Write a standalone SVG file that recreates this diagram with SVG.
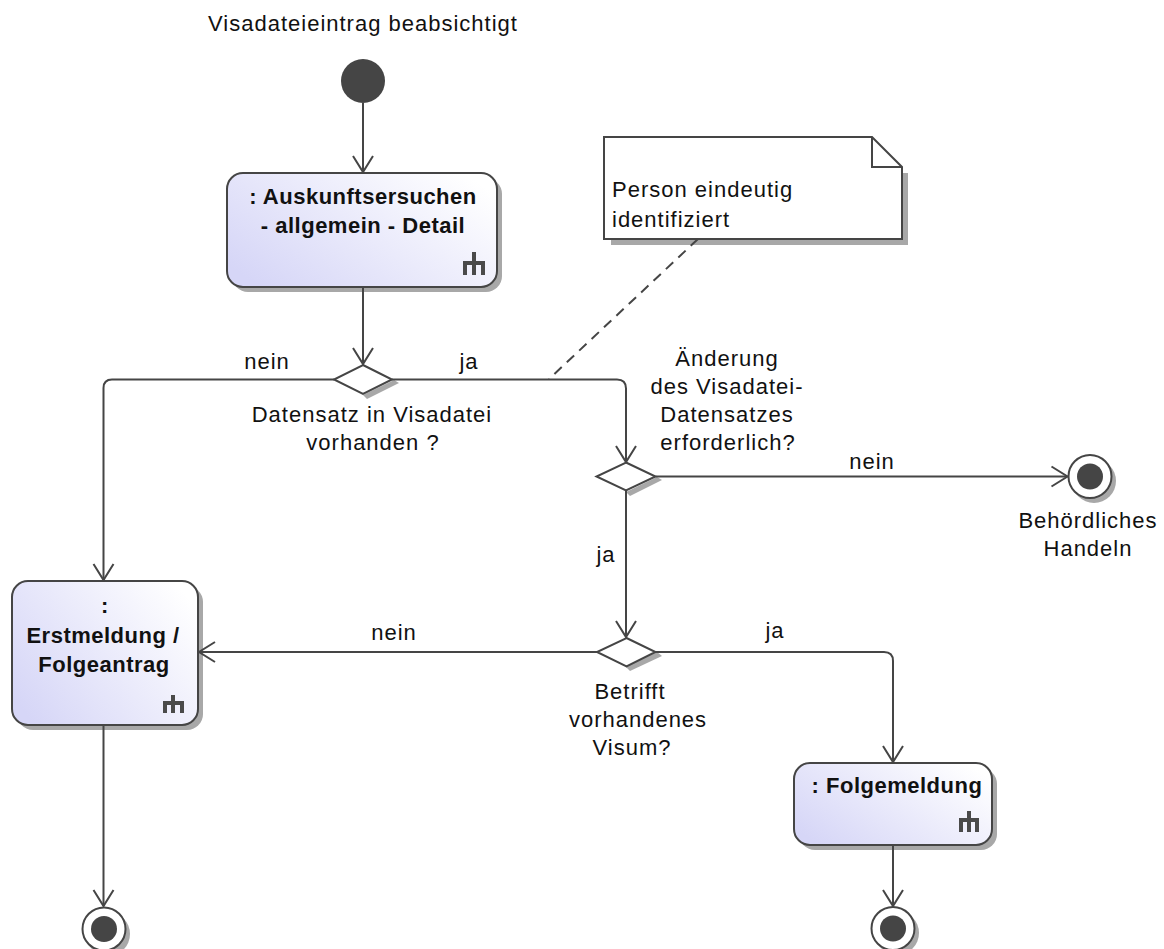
<svg xmlns="http://www.w3.org/2000/svg" width="1164" height="949" viewBox="0 0 1164 949">
<style>
text{font-family:"Liberation Sans",Arial,sans-serif;font-size:22px;fill:#111;letter-spacing:1px}
.b{font-weight:bold;letter-spacing:0.5px}
.c{text-anchor:middle}
.ln{fill:none;stroke:#454545;stroke-width:2}
.sh{fill:#a8a8a8;stroke:none}
.act{fill:url(#g);stroke:#454545;stroke-width:2}
.dec{fill:#fff;stroke:#454545;stroke-width:2}
.rake{fill:none;stroke:#4a4a4a;stroke-width:4}
</style>
<defs>
<linearGradient id="g" x1="0" y1="0.8" x2="1" y2="0.2">
<stop offset="0" stop-color="#d6d6f7"/>
<stop offset="1" stop-color="#ffffff"/>
</linearGradient>
<marker id="a" markerUnits="userSpaceOnUse" markerWidth="40" markerHeight="40" viewBox="-20 -20 40 40" refX="0" refY="0" orient="auto">
<path d="M-16,-10 L0,0 L-16,10" fill="none" stroke="#454545" stroke-width="2"/>
</marker>
</defs>

<g id="label-start"><text class="c" x="363" y="31">Visadateieintrag beabsichtigt</text></g>

<g id="initial"><circle cx="363" cy="81" r="22" fill="#454545"/></g>

<g id="action-auskunft">
<rect class="sh" x="232" y="178" width="270" height="114" rx="16"/>
<rect class="act" x="227" y="173" width="270" height="114" rx="16"/>
<text class="b c" x="363" y="204">: Auskunftsersuchen</text>
<text class="b c" x="363" y="233">- allgemein - Detail</text>
<path class="rake" d="M474,252 V275 M463,263 H485 M465,263 V275 M483,263 V275"/>
</g>

<g id="note">
<path class="sh" d="M902,173 H908 V245 H611 V239 H902 Z"/>
<path d="M604,137 H872 L902,167 V239 H604 Z" fill="#fff" stroke="#454545" stroke-width="2"/>
<path d="M872,137 V167 H902" fill="none" stroke="#454545" stroke-width="2"/>
<text x="612" y="197">Person eindeutig</text>
<text x="612" y="227">identifiziert</text>
</g>

<g id="decision-datensatz">
<path class="sh" d="M367,399 L399,383 L394,380 L363,395 Z"/>
<path class="dec" d="M363,365 L392,379.5 L363,394 L334,379.5 Z"/>
<text class="c" x="372" y="422">Datensatz in Visadatei</text>
<text class="c" x="373" y="450">vorhanden ?</text>
</g>

<g id="decision-aenderung">
<path class="sh" d="M630,496 L662,480 L657,477 L626,492 Z"/>
<path class="dec" d="M626,462.5 L655.5,476.5 L626,490.5 L596.5,476.5 Z"/>
<text class="c" x="727" y="366">Änderung</text>
<text class="c" x="727" y="394">des Visadatei-</text>
<text class="c" x="727" y="422">Datensatzes</text>
<text class="c" x="728" y="450">erforderlich?</text>
</g>

<g id="final-behoerdlich">
<circle cx="1094" cy="481" r="22" fill="#a8a8a8"/>
<circle cx="1090" cy="476.5" r="21.5" fill="#fff" stroke="#454545" stroke-width="2"/>
<circle cx="1090" cy="476.5" r="13" fill="#454545"/>
<text class="c" x="1088" y="528">Behördliches</text>
<text class="c" x="1088" y="556">Handeln</text>
</g>

<g id="decision-visum">
<path class="sh" d="M630,671 L662,656 L657,652 L626,667 Z"/>
<path class="dec" d="M626.5,638 L655.5,652 L626.5,666.5 L597,652 Z"/>
<text class="c" x="630" y="699">Betrifft</text>
<text class="c" x="638" y="727">vorhandenes</text>
<text class="c" x="632" y="755">Visum?</text>
</g>

<g id="action-erstmeldung">
<rect class="sh" x="17" y="586" width="186" height="144" rx="16"/>
<rect class="act" x="12" y="581" width="186" height="144" rx="16"/>
<text class="b c" x="105" y="613">:</text>
<text class="b c" x="103" y="643">Erstmeldung /</text>
<text class="b c" x="104" y="672">Folgeantrag</text>
<path class="rake" d="M173,695 V713 M163,703 H184 M165,703 V713 M182,703 V713"/>
</g>

<g id="action-folgemeldung">
<rect class="sh" x="799" y="768" width="198" height="82" rx="16"/>
<rect class="act" x="794" y="763" width="198" height="82" rx="16"/>
<text class="b c" x="897" y="793">: Folgemeldung</text>
<path class="rake" d="M969,811 V832 M959,820 H979 M961,820 V832 M977,820 V832"/>
</g>

<g id="final-erst">
<circle cx="108" cy="934" r="22" fill="#a8a8a8"/>
<circle cx="104" cy="929" r="21.5" fill="#fff" stroke="#454545" stroke-width="2"/>
<circle cx="104" cy="929" r="13" fill="#454545"/>
</g>

<g id="final-folge">
<circle cx="897" cy="933" r="22" fill="#a8a8a8"/>
<circle cx="893" cy="928.5" r="21.5" fill="#fff" stroke="#454545" stroke-width="2"/>
<circle cx="893" cy="928.5" r="13" fill="#454545"/>
</g>

<g id="connectors">
<path class="ln" d="M363,103 V172" marker-end="url(#a)"/>
<path class="ln" d="M363,287 V364" marker-end="url(#a)"/>
<path class="ln" d="M334,379.5 H112 Q103.5,379.5 103.5,388 V580" marker-end="url(#a)"/>
<path class="ln" d="M392,379.5 H617 Q626,379.5 626,388.5 V462" marker-end="url(#a)"/>
<path class="ln" d="M655.5,476.5 H1067.5" marker-end="url(#a)"/>
<path class="ln" d="M626,490.5 V637" marker-end="url(#a)"/>
<path class="ln" d="M597,652 H199" marker-end="url(#a)"/>
<path class="ln" d="M655.5,652 H884 Q893,652 893,661 V762" marker-end="url(#a)"/>
<path class="ln" d="M103.5,725 V906" marker-end="url(#a)"/>
<path class="ln" d="M893,845 V906" marker-end="url(#a)"/>
<path class="ln" d="M698,239 L549,379" stroke-dasharray="10,7"/>
<text class="c" x="267" y="369">nein</text>
<text class="c" x="469" y="369">ja</text>
<text class="c" x="872" y="469">nein</text>
<text class="c" x="606" y="562">ja</text>
<text class="c" x="394" y="640">nein</text>
<text class="c" x="775" y="638">ja</text>
</g>
</svg>
